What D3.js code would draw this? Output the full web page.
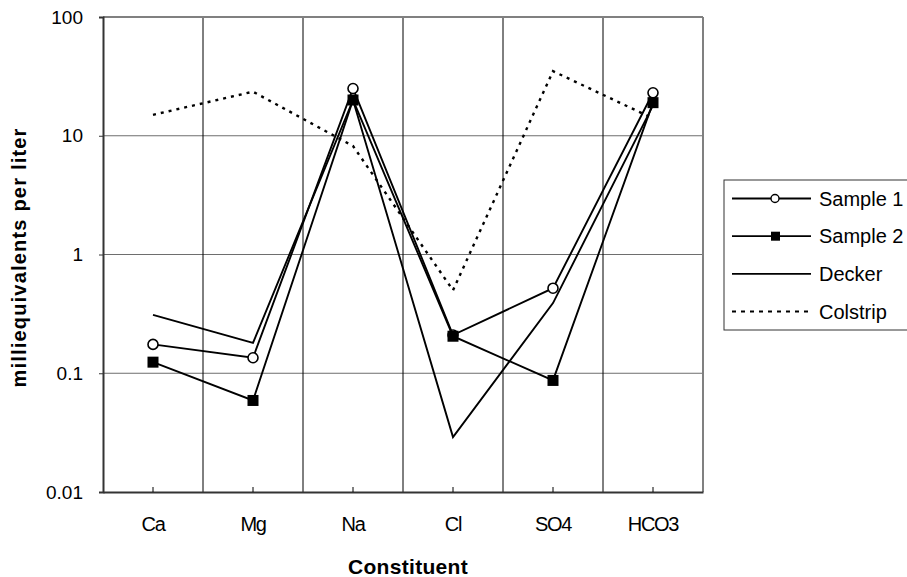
<!DOCTYPE html>
<html>
<head>
<meta charset="utf-8">
<script src="https://cdn.jsdelivr.net/npm/d3@7/dist/d3.min.js"></script>
<style>
  body { margin: 0; background: #fff; }
  svg text { font-family: "Liberation Sans", Arial, sans-serif; fill: #000; }
</style>
</head>
<body>
<div id="chart"></div>
<script>
// Chart data
const categories = ["Ca", "Mg", "Na", "Cl", "SO4", "HCO3"]
const sample1 = [0.175, 0.135, 25, 0.21, 0.52, 23]
const sample2 = [0.124, 0.059, 20, 0.205, 0.087, 19]
const decker = [0.31, 0.18, 20, 0.029, 0.39, 18]
const colstrip = [15, 23.5, 8.2, 0.5, 35, 14]
const yTicks = [0.01, 0.1, 1, 10, 100]
const yTickLabels = ["0.01", "0.1", "1", "10", "100"]

const W = 907, H = 577
const margin = { top: 17, right: 204, bottom: 85, left: 103 }
const width = W - margin.left - margin.right
const height = H - margin.top - margin.bottom

const svg = d3.select("#chart").append("svg")
  .attr("width", W)
  .attr("height", H)

const g = svg.append("g")
  .attr("transform", `translate(${margin.left},${margin.top})`)

// Scales
const x = d3.scaleBand().domain(categories).range([0, width]).padding(0)
const cx = c => x(c) + x.bandwidth() / 2
const y = d3.scaleLog().domain([0.01, 100]).range([height, 0])

// Horizontal grid
g.append("g")
  .selectAll("line")
  .data(yTicks.slice(1, -1))
  .enter().append("line")
  .attr("x1", 0).attr("x2", width)
  .attr("y1", d => y(d)).attr("y2", d => y(d))
  .attr("stroke", "#6e6e6e").attr("stroke-width", 1)

// Vertical grid between categories
g.append("g")
  .selectAll("line")
  .data(categories.slice(1))
  .enter().append("line")
  .attr("x1", d => x(d)).attr("x2", d => x(d))
  .attr("y1", 0).attr("y2", height)
  .attr("stroke", "#000").attr("stroke-width", 1)

// Plot frame (top / right)
g.append("line").attr("x1", 0).attr("x2", width).attr("y1", 0).attr("y2", 0)
  .attr("stroke", "#808080").attr("stroke-width", 2)
g.append("line").attr("x1", width).attr("x2", width).attr("y1", 0).attr("y2", height)
  .attr("stroke", "#808080").attr("stroke-width", 2)

// Y axis
const yAxis = g.append("g")
  .call(d3.axisLeft(y).tickValues(yTicks).tickSize(4).tickPadding(16)
    .tickFormat((d, i) => yTickLabels[i]))
yAxis.select(".domain").attr("stroke", "#333").attr("stroke-width", 2)
yAxis.selectAll(".tick line").attr("stroke", "#333")
yAxis.selectAll("text").style("font-size", "19px").attr("font-family", null)

// X axis
const xAxis = g.append("g")
  .attr("transform", `translate(0,${height})`)
  .call(d3.axisBottom(x).tickSize(0).tickPadding(25))
xAxis.select(".domain").attr("stroke", "#333").attr("stroke-width", 2)
xAxis.selectAll("text")
  .style("font-size", "20px").style("letter-spacing", "-1.3px")
  .attr("font-family", null)
// small inside ticks at category centres
g.append("g")
  .selectAll("line")
  .data(categories)
  .enter().append("line")
  .attr("x1", d => cx(d)).attr("x2", d => cx(d))
  .attr("y1", height).attr("y2", height - 5)
  .attr("stroke", "#000")

// Axis titles
svg.append("text")
  .attr("transform", `translate(26,${margin.top + height / 2 + 3}) rotate(-90)`)
  .attr("text-anchor", "middle")
  .style("font-size", "20px").style("font-weight", "bold")
  .style("letter-spacing", "1.2px")
  .text("milliequivalents per liter")

svg.append("text")
  .attr("x", margin.left + width / 2 + 5)
  .attr("y", 574)
  .attr("text-anchor", "middle")
  .style("font-size", "21px").style("font-weight", "bold")
  .style("letter-spacing", "0.3px")
  .text("Constituent")

// Lines
const line = d3.line()
  .x((d, i) => cx(categories[i]))
  .y(d => y(d))

g.append("path").datum(colstrip)
  .attr("fill", "none").attr("stroke", "#000")
  .attr("stroke-width", 2.4).attr("stroke-dasharray", "3,5")
  .attr("d", line)

g.append("path").datum(decker)
  .attr("fill", "none").attr("stroke", "#000").attr("stroke-width", 1.9)
  .attr("d", line)

g.append("path").datum(sample1)
  .attr("fill", "none").attr("stroke", "#000").attr("stroke-width", 1.9)
  .attr("d", line)

g.append("path").datum(sample2)
  .attr("fill", "none").attr("stroke", "#000").attr("stroke-width", 1.9)
  .attr("d", line)

// Markers
g.append("g").selectAll("circle")
  .data(sample1)
  .enter().append("circle")
  .attr("cx", (d, i) => cx(categories[i]))
  .attr("cy", d => y(d))
  .attr("r", 5)
  .attr("fill", "#fff").attr("stroke", "#000").attr("stroke-width", 1.6)

g.append("g").selectAll("rect")
  .data(sample2)
  .enter().append("rect")
  .attr("x", (d, i) => cx(categories[i]) - 5.5)
  .attr("y", d => y(d) - 5.5)
  .attr("width", 11).attr("height", 11)
  .attr("fill", "#000")

// Legend
const legend = svg.append("g").attr("transform", "translate(724,180)")
legend.append("rect")
  .attr("x", 0).attr("y", 0).attr("width", 200).attr("height", 150)
  .attr("fill", "#fff").attr("stroke", "#333").attr("stroke-width", 1)

const legendItems = [
  { name: "Sample 1", marker: "circle", dash: null },
  { name: "Sample 2", marker: "square", dash: null },
  { name: "Decker", marker: null, dash: null },
  { name: "Colstrip", marker: null, dash: "4,5" }
]
legendItems.forEach((item, i) => {
  const ly = 18.5 + i * 37.7
  const row = legend.append("g").attr("transform", `translate(0,${ly})`)
  row.append("line")
    .attr("x1", 8).attr("x2", 87).attr("y1", 0).attr("y2", 0)
    .attr("stroke", "#000")
    .attr("stroke-width", item.dash ? 2 : 1.8)
    .attr("stroke-dasharray", item.dash)
  if (item.marker === "circle") {
    row.append("circle").attr("cx", 51).attr("cy", 0).attr("r", 4)
      .attr("fill", "#fff").attr("stroke", "#000").attr("stroke-width", 1.4)
  } else if (item.marker === "square") {
    row.append("rect").attr("x", 47).attr("y", -4.5).attr("width", 9).attr("height", 9)
      .attr("fill", "#000")
  }
  row.append("text")
    .attr("x", 95).attr("y", 0).attr("dy", "0.35em")
    .style("font-size", "20px")
    .text(item.name)
})
</script>
</body>
</html>
